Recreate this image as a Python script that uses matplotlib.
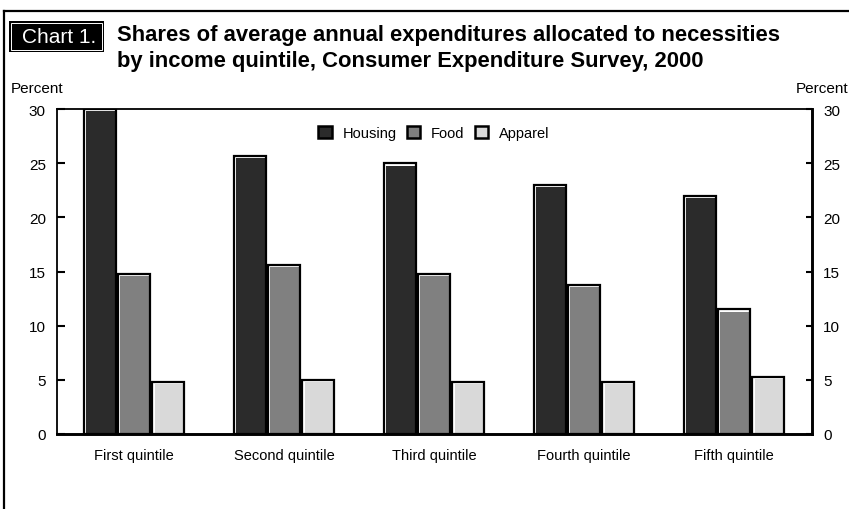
import numpy as np
import matplotlib.pyplot as plt
from matplotlib.lines import Line2D
from matplotlib.patches import Patch, Rectangle

plt.rcParams['font.family'] = ['Liberation Sans', 'DejaVu Sans']

quintiles = ["First quintile", "Second quintile", "Third quintile",
             "Fourth quintile", "Fifth quintile"]
housing = [30.0, 25.7, 25.0, 23.0, 22.0]
food = [14.8, 15.6, 14.8, 13.8, 11.5]
apparel = [4.8, 5.0, 4.8, 4.8, 5.3]
series = ["Housing", "Food", "Apparel"]
colors = ["#2b2b2b", "#808080", "#d9d9d9"]

fig = plt.figure(figsize=(8.49, 5.1), dpi=100)
W, H = 849, 510
ax = fig.add_axes([57 / W, 1 - 435 / H, (812 - 57) / W, (435 - 110) / H])

x = np.arange(len(quintiles))
width = 0.215
offsets = [-0.228, 0.0, 0.228]
dx, dy = 0.017, 0.23  # white highlight strip on left and top
for vals, off, c in zip([housing, food, apparel], offsets, colors):
    vals = np.array(vals)
    ax.bar(x + off, vals, width, color="white", edgecolor="none", zorder=2)
    ax.bar(x + off + dx / 2, vals - dy, width - dx, color=c, edgecolor="none", zorder=3)
    ax.bar(x + off, vals, width, color="none", edgecolor="black", linewidth=1.6, zorder=4)

ax.set_xlim(-0.513, 4.52)
ax.set_ylim(0, 30)
ax.set_yticks([0, 5, 10, 15, 20, 25, 30])
ax.set_xticks(x)
ax.set_xticklabels(quintiles, fontsize=10.5)
ax.tick_params(axis="x", length=0, pad=10)
ax.tick_params(axis="y", direction="in", width=1.5, length=6, labelsize=11, pad=8,
               left=True, right=True, labelleft=True, labelright=True)
for t in ax.yaxis.get_major_ticks():
    t.tick2line.set_markersize(4)
ax.spines["top"].set_linewidth(1.3)
ax.spines["left"].set_linewidth(1.3)
ax.spines["right"].set_linewidth(2.1)
ax.spines["bottom"].set_linewidth(2.1)

handles = [Patch(facecolor=c, edgecolor="black", linewidth=1.8) for c in colors]
ax.legend(handles, series, loc="upper center", bbox_to_anchor=(0.499, 0.978), ncol=3,
          frameon=False, fontsize=10.5, handlelength=0.9, handleheight=0.9,
          handletextpad=0.75, columnspacing=0.7, borderaxespad=0.3)

fig.text(11 / W, 1 - 89 / H, "Percent", fontsize=11, va="center", ha="left")
fig.text(796 / W, 1 - 89 / H, "Percent", fontsize=11, va="center", ha="left")

# "Chart 1." black label box
fig.add_artist(Rectangle((9 / W, 1 - 53 / H), 95 / W, 31 / H, facecolor="black",
                         edgecolor="none", transform=fig.transFigure))
fig.add_artist(Rectangle((11 / W, 1 - 51 / H), 91 / W, 27 / H, facecolor="none",
                         edgecolor="white", linewidth=0.7, transform=fig.transFigure))
fig.text(59 / W, 1 - 37.5 / H, "Chart 1.", fontsize=15, color="white",
         va="center", ha="center")

fig.text(117 / W, 1 - 36 / H,
         "Shares of average annual expenditures allocated to necessities",
         fontsize=15.8, fontweight="bold", va="center", ha="left")
fig.text(117 / W, 1 - 62 / H,
         "by income quintile, Consumer Expenditure Survey, 2000",
         fontsize=15.8, fontweight="bold", va="center", ha="left")

# outer frame (top and left edges)
fig.add_artist(Line2D([4 / W, 4 / W], [0, 1 - 12 / H], color="black", linewidth=1.6,
                      transform=fig.transFigure))
fig.add_artist(Line2D([4 / W, 1], [1 - 12 / H, 1 - 12 / H], color="black", linewidth=1.6,
                      transform=fig.transFigure))

fig.savefig("out.png", dpi=100)
